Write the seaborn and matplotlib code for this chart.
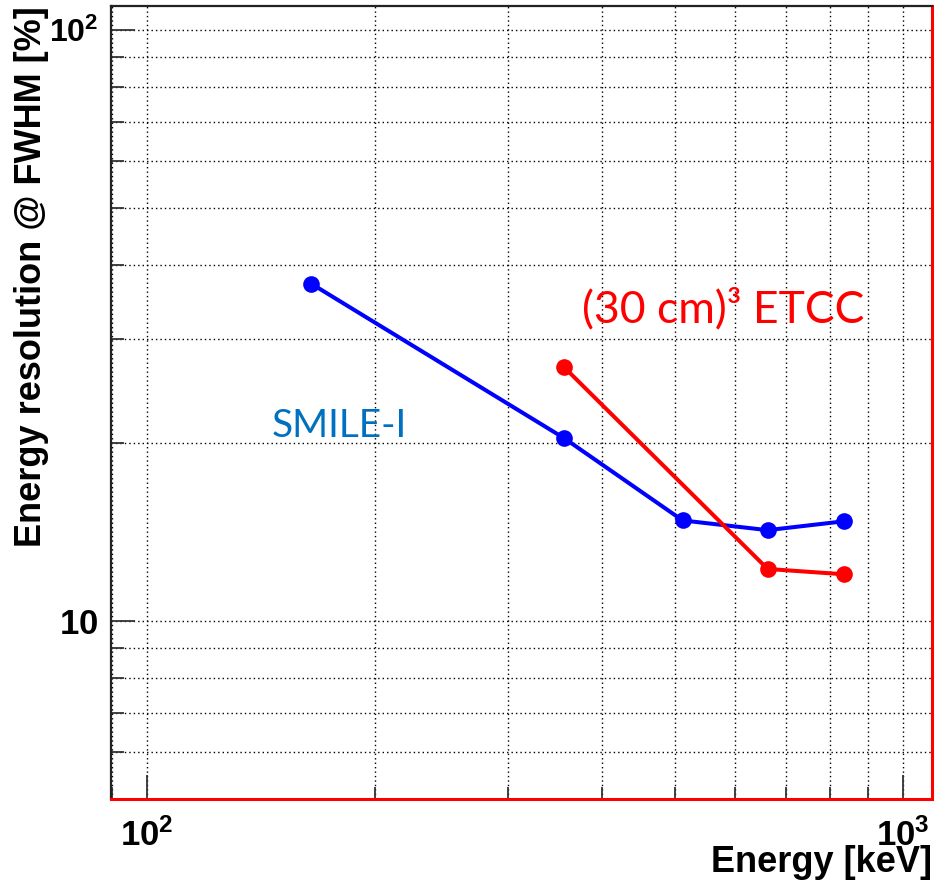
import numpy as np
import pandas as pd
import matplotlib
matplotlib.use("Agg")
import matplotlib.pyplot as plt
import matplotlib.ticker as mticker
import seaborn as sns

# energy resolution vs gamma energy
smile_energy = [165, 356, 511, 662, 835]
smile_res = [37.2, 20.4, 14.8, 14.25, 14.75]
etcc_energy = [356, 662, 835]
etcc_res = [26.9, 12.25, 12.0]

x_major = [100, 1000]
x_major_labels = [r"$10^{2}$", r"$10^{3}$"]
y_major = [10, 100]
y_major_labels = [r"$10$", r"$10^{2}$"]

df = pd.DataFrame({
    "energy": smile_energy + etcc_energy,
    "res": smile_res + etcc_res,
    "det": ["SMILE-I"] * len(smile_energy) + ["ETCC"] * len(etcc_energy),
})

sns.set_theme(style="white")
plt.rcParams["font.family"] = ["Liberation Sans", "DejaVu Sans"]
plt.rcParams["mathtext.fontset"] = "custom"
plt.rcParams["mathtext.rm"] = "Liberation Sans:bold"
plt.rcParams["mathtext.it"] = "Liberation Sans:bold"
plt.rcParams["mathtext.bf"] = "Liberation Sans:bold"

fig = plt.figure(figsize=(9.36, 8.82), dpi=100)
ax = fig.add_axes([0.1186, 0.0941, 0.8771, 0.8991])
ax.set_xscale("log")
ax.set_yscale("log")

sns.lineplot(data=df, x="energy", y="res", hue="det",
             palette={"SMILE-I": "#0000ff", "ETCC": "#ff0000"},
             marker="o", markersize=12, markeredgewidth=0,
             linewidth=2.9, sort=False, legend=False, ax=ax, zorder=3)

ax.set_xlim(89.6, 1092)
ax.set_ylim(5, 109.8)

# ticks, ROOT style
ax.xaxis.set_major_locator(mticker.FixedLocator(x_major))
ax.xaxis.set_major_formatter(mticker.FixedFormatter(x_major_labels))
ax.xaxis.set_minor_locator(mticker.LogLocator(base=10, subs=np.arange(2, 10)))
ax.xaxis.set_minor_formatter(mticker.NullFormatter())
ax.yaxis.set_major_locator(mticker.FixedLocator(y_major))
ax.yaxis.set_major_formatter(mticker.FixedFormatter(y_major_labels))
ax.yaxis.set_minor_locator(mticker.LogLocator(base=10, subs=np.arange(2, 10)))
ax.yaxis.set_minor_formatter(mticker.NullFormatter())

ax.tick_params(which="major", direction="in", length=17, width=1.3,
               color="#333333", labelsize=25, labelcolor="black", pad=9)
ax.tick_params(which="minor", direction="in", length=9, width=1.3,
               color="#333333")
ax.tick_params(axis="x", which="major", pad=14)
ax.tick_params(bottom=True, left=True, top=False, right=False, which="both")

# the 10^2 label on the y axis is a bit narrower in the original
ylabs = ax.yaxis.get_majorticklabels()
ylabs[1].set_fontsize(23)

ax.grid(True, which="both", linestyle=(0, (1, 2.2)), color="black",
        linewidth=1.0)

for side in ["left", "top"]:
    ax.spines[side].set_color("#222222")
    ax.spines[side].set_linewidth(1.6)
for side in ["bottom", "right"]:
    ax.spines[side].set_color("#ff0000")
    ax.spines[side].set_linewidth(2.2)

ax.set_xlabel("Energy [keV]", fontsize=26, fontweight="bold", ha="right",
              va="top", color="black")
ax.xaxis.set_label_coords(1.0, -0.058)
ax.set_ylabel("Energy resolution @ FWHM [%]", fontsize=26,
              fontweight="bold", ha="right", va="bottom", color="black")
ax.yaxis.set_label_coords(-0.075, 1.0)

ax.text(146, 20.5, "SMILE-I", color="#0070c0", fontsize=28,
        family=["Lato", "DejaVu Sans"], va="baseline")
ax.text(376, 32.0, "(30 cm)\u00b3 ETCC", color="#ff0000", fontsize=32,
        family=["Lato", "DejaVu Sans"], va="baseline")

fig.savefig("out.png", dpi=100)
